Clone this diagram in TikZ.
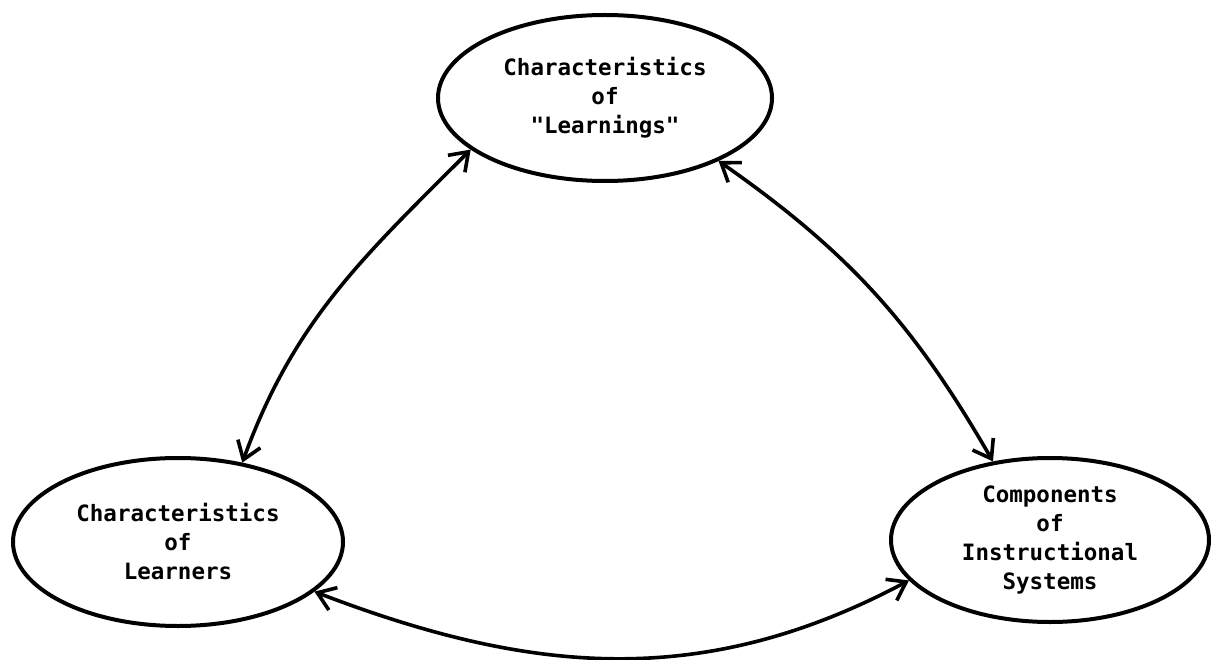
\documentclass[tikz,border=0pt]{standalone}
\usepackage{fontspec}
\setmonofont{DejaVu Sans Mono}
\usetikzlibrary{arrows.meta, shapes.geometric}

\begin{document}
\begin{tikzpicture}[x=1pt, y=-1pt,
  bubble/.style={draw, ellipse, line width=4pt, inner sep=0pt, align=center,
    font=\ttfamily\bfseries\fontsize{22.5}{29}\selectfont},
  link/.style={{Straight Barb[length=17pt,width=24pt]}-{Straight Barb[length=17pt,width=24pt]}, line width=3.6pt}]
\useasboundingbox (0,0) rectangle (1212,660);
\node[bubble, minimum width=334pt, minimum height=166pt] (learnings) at (605,98) {Characteristics\\of\\"Learnings"};
\node[bubble, minimum width=330pt, minimum height=168pt] (learners) at (178,542) {Characteristics\\of\\Learners};
\node[bubble, minimum width=318pt, minimum height=164pt] (systems) at (1050,540) {Components\\of\\Instructional\\Systems};
\draw[link] (learnings.201) to[out=225, in=70] (learners.51);
\draw[link] (learnings.331) to[out=-35, in=120] (systems.126);
\draw[link] (learners.340) to[out=-21, in=208] (systems.196);
\end{tikzpicture}
\end{document}
